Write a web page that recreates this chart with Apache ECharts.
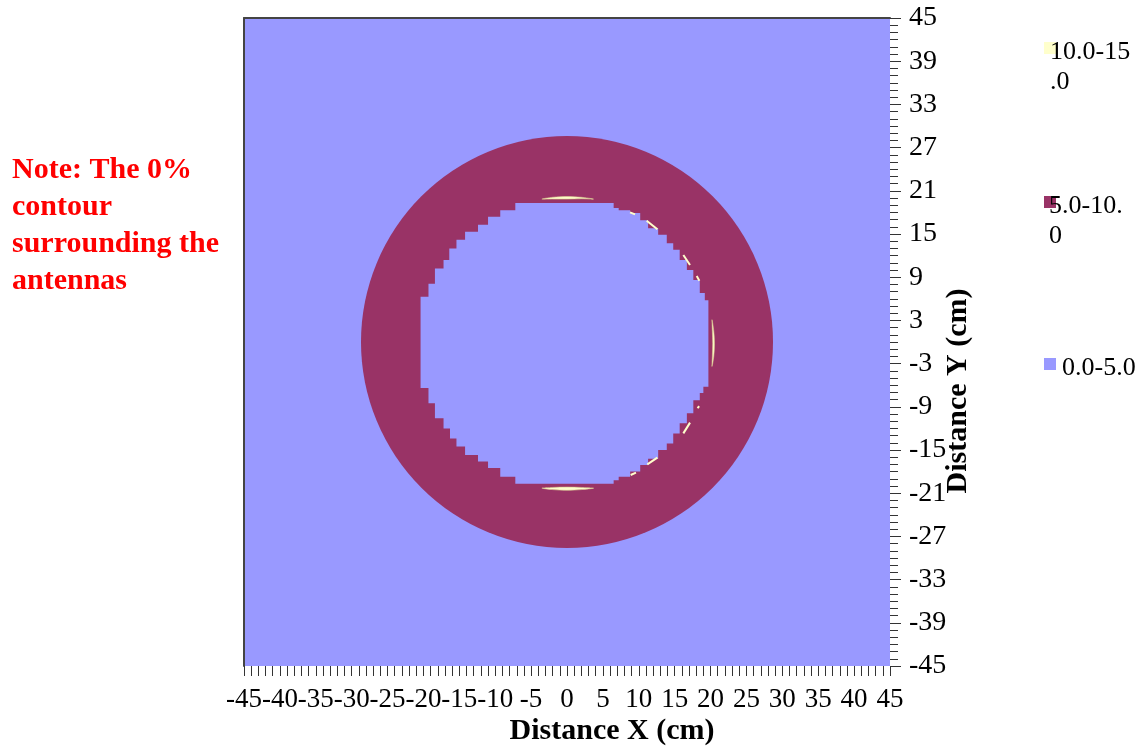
<!DOCTYPE html>
<html>
<head>
<meta charset="utf-8">
<script src="https://cdn.jsdelivr.net/npm/echarts@6/dist/echarts.min.js"></script>
<style>html,body{margin:0;padding:0;background:#fff}#c{width:1145px;height:754px}</style>
</head>
<body>
<div id="c"></div>
<script>
// ---- data (cm) ----
const xRange = [-45, 45];
const yRange = [-45, 45];
const xTickStep = 5;
const yTickStep = 6;
const legendNames = ['10.0-15.0', '5.0-10.0', '0.0-5.0'];
const legendLabels = ['10.0-15\n.0', '5.0-10.\n0', '0.0-5.0'];
const bandColors = ['#FFFFCC', '#993366', '#9999FF'];
const ringCenter = [0, 0];
const ringRadius = 28.7;
const innerBoundary = [
  [-7.2,19.3],[6.5,19.3],[6.5,18.6],[7.2,18.6],[7.2,18.3],[8.8,18.3],[8.8,17.9],[10.2,17.9],[10.2,16.9],
  [11.3,16.9],[11.3,15.8],[12.7,15.8],[12.7,14.9],[13.9,14.9],[13.9,13.7],[14.8,13.7],[14.8,12.8],
  [15.7,12.8],[15.7,11.4],[16.7,11.4],[16.7,10.0],[17.6,10.0],[17.6,8.6],[18.5,8.6],[18.5,6.8],
  [19.2,6.8],[19.2,5.8],[19.7,5.8],[19.7,-6.2],[19.0,-6.2],[19.0,-7.1],[18.5,-7.1],[18.5,-8.1],
  [17.6,-8.1],[17.6,-9.9],[16.7,-9.9],[16.7,-11.3],[15.7,-11.3],[15.7,-12.7],[14.8,-12.7],[14.8,-14.1],
  [13.9,-14.1],[13.9,-15.0],[12.7,-15.0],[12.7,-16.2],[11.3,-16.2],[11.3,-17.1],[10.2,-17.1],[10.2,-18.0],
  [8.8,-18.0],[8.8,-18.7],[7.2,-18.7],[7.2,-19.2],[6.5,-19.2],[6.5,-19.7],
  [-7.2,-19.7],[-7.2,-18.7],[-9.3,-18.7],[-9.3,-17.5],[-11.0,-17.5],[-11.0,-16.6],[-12.4,-16.6],
  [-12.4,-15.7],[-14.2,-15.7],[-14.2,-14.5],[-15.4,-14.5],[-15.4,-13.4],[-16.3,-13.4],[-16.3,-12.0],
  [-17.2,-12.0],[-17.2,-10.6],[-18.4,-10.6],[-18.4,-8.5],[-19.3,-8.5],[-19.3,-6.4],[-20.4,-6.4],
  [-20.4,6.3],[-19.3,6.3],[-19.3,8.1],[-18.4,8.1],[-18.4,10.2],[-17.2,10.2],[-17.2,11.4],[-16.4,11.4],
  [-16.4,13.0],[-15.4,13.0],[-15.4,14.2],[-14.2,14.2],[-14.2,15.3],[-12.4,15.3],[-12.4,16.3],
  [-11.0,16.3],[-11.0,17.4],[-9.3,17.4],[-9.3,18.3],[-7.2,18.3]
];
const sliverPolygons = [
  [[-3.5,19.85],[-2,20.1],[0,20.2],[2,20.1],[3.7,19.85],[2,19.9],[0,19.85],[-2,19.85]],
  [[-3.5,-20.3],[-2,-20.5],[0,-20.6],[2,-20.5],[3.7,-20.3],[2,-20.2],[0,-20.15],[-2,-20.2]],
  [[20.2,3.1],[20.45,1.5],[20.55,-0.2],[20.45,-2],[20.2,-3.4],[20.25,-2],[20.3,-0.2],[20.25,1.5]]
];
const sliverStreaks = [
  [[11.1,16.85],[12.59,15.65]],
  [[8.78,18.0],[9.48,17.73]],
  [[16.21,12.08],[17.14,10.69]],
  [[18.07,9.17],[18.44,8.52]],
  [[16.21,-12.69],[17.14,-11.2]],
  [[11.19,-16.99],[12.59,-16.06]],
  [[8.87,-18.47],[9.61,-18.15]],
  [[18.2,-9.2],[18.4,-8.9]]
];
const noteLines = ['Note: The 0%', 'contour', 'surrounding the', 'antennas'];
const xTitle = 'Distance X (cm)';
const yTitle = 'Distance Y (cm)';

// ---- chart ----
const chart = echarts.init(document.getElementById('c'), null, {renderer: 'canvas'});
const serif = '"Liberation Serif","Times New Roman",serif';

const legendGraphics = [];
const legendTops = [42, 196, 358];
const legendTextX = [1050, 1049, 1062];
legendNames.forEach((n, i) => {
  legendGraphics.push({type: 'rect', left: 1044, top: legendTops[i], z: 5,
    shape: {width: 12, height: 12}, style: {fill: bandColors[i]}});
  legendGraphics.push({type: 'text', left: legendTextX[i], top: legendTops[i] - 5, z: 6,
    style: {text: legendLabels[i], font: '26px ' + serif, fill: '#000', lineHeight: 30}});
});

const hiddenAxisParts = {axisTick: {show: false}, axisLabel: {show: false}, splitLine: {show: false}};

const option = {
  animation: false,
  backgroundColor: '#ffffff',
  grid: {left: 244, top: 18, width: 646, height: 648, show: false},
  xAxis: [{
    type: 'value', min: xRange[0], max: xRange[1], interval: xTickStep, z: 10,
    axisLine: {show: false, onZero: false},
    axisTick: {show: true, length: 10, lineStyle: {color: '#333'}},
    minorTick: {show: true, splitNumber: 5, length: 10, lineStyle: {color: '#333'}},
    splitLine: {show: false},
    axisLabel: {fontFamily: serif, fontSize: 27, color: '#000', margin: 20}
  }, Object.assign({
    type: 'value', position: 'top', min: xRange[0], max: xRange[1], z: 10,
    axisLine: {show: true, onZero: false, lineStyle: {color: '#444', width: 2}}
  }, hiddenAxisParts)],
  yAxis: [{
    type: 'value', position: 'right', min: yRange[0], max: yRange[1], interval: yTickStep, z: 10,
    axisLine: {show: false, onZero: false},
    axisTick: {show: true, length: 11, lineStyle: {color: '#333'}},
    minorTick: {show: true, splitNumber: 6, length: 8, lineStyle: {color: '#333'}},
    splitLine: {show: false},
    axisLabel: {fontFamily: serif, fontSize: 28, color: '#000', margin: 19}
  }, Object.assign({
    type: 'value', position: 'left', min: yRange[0], max: yRange[1], z: 10,
    axisLine: {show: true, onZero: false, lineStyle: {color: '#444', width: 2}}
  }, hiddenAxisParts)],
  graphic: legendGraphics.concat([
    {type: 'text', left: 12, top: 152, z: 5,
     style: {text: noteLines.join('\n'), font: 'bold 30px ' + serif, fill: '#ff0000', lineHeight: 37}},
    {type: 'text', x: 612, y: 731, z: 5,
     style: {text: xTitle, font: 'bold 30px ' + serif, fill: '#000', align: 'center', verticalAlign: 'middle'}},
    {type: 'text', x: 958, y: 391, rotation: Math.PI / 2, z: 5,
     style: {text: yTitle, font: 'bold 30px ' + serif, fill: '#000', align: 'center', verticalAlign: 'middle'}}
  ]),
  series: [
    {
      name: legendNames[2], type: 'custom', coordinateSystem: 'cartesian2d', z: 1, silent: true,
      data: [[xRange[0], yRange[1], xRange[1], yRange[0]]],
      renderItem: function (params, api) {
        const a = api.coord([api.value(0), api.value(1)]);
        const b = api.coord([api.value(2), api.value(3)]);
        return {type: 'rect', shape: {x: a[0], y: a[1], width: b[0] - a[0], height: b[1] - a[1]},
                style: {fill: bandColors[2]}};
      }
    },
    {
      name: legendNames[1], type: 'custom', coordinateSystem: 'cartesian2d', z: 2, silent: true,
      data: [[ringCenter[0], ringCenter[1], ringRadius]],
      renderItem: function (params, api) {
        const c = api.coord([api.value(0), api.value(1)]);
        const r = api.size([api.value(2), 0])[0];
        return {type: 'circle', shape: {cx: c[0], cy: c[1], r: r}, style: {fill: bandColors[1]}};
      }
    },
    {
      name: legendNames[2], type: 'custom', coordinateSystem: 'cartesian2d', z: 3, silent: true,
      data: [0],
      renderItem: function (params, api) {
        return {type: 'polygon', shape: {points: innerBoundary.map(p => api.coord(p))},
                style: {fill: bandColors[2]}};
      }
    },
    {
      name: legendNames[0], type: 'custom', coordinateSystem: 'cartesian2d', z: 4, silent: true,
      data: sliverPolygons.map((p, i) => i),
      renderItem: function (params, api) {
        return {type: 'polygon', shape: {points: sliverPolygons[params.dataIndex].map(p => api.coord(p)), smooth: 0.3},
                style: {fill: bandColors[0], stroke: '#d8c98e', lineWidth: 0.6}};
      }
    },
    {
      name: legendNames[0], type: 'custom', coordinateSystem: 'cartesian2d', z: 4, silent: true,
      data: sliverStreaks.map((p, i) => i),
      renderItem: function (params, api) {
        return {type: 'polyline', shape: {points: sliverStreaks[params.dataIndex].map(p => api.coord(p))},
                style: {stroke: bandColors[0], lineWidth: 2, fill: null}};
      }
    }
  ]
};
chart.setOption(option);
</script>
</body>
</html>
